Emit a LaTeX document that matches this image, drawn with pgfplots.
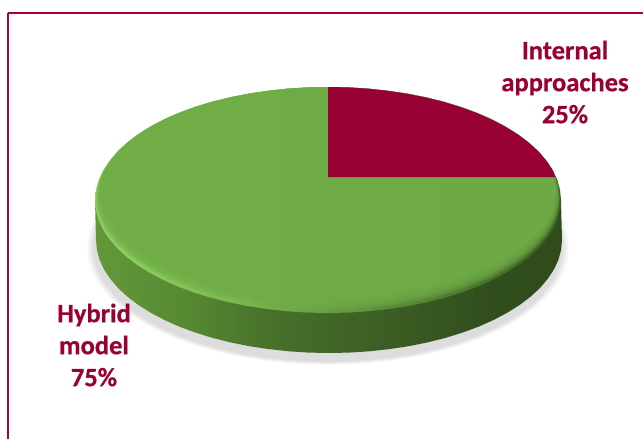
\documentclass[border=0pt]{standalone}
\usepackage{pgfplots}
\pgfplotsset{compat=1.18}
\usepackage{pgfplotstable}
\usepackage{fontspec}
\setmainfont{Carlito}[BoldFeatures={FakeBold=0.5}]
\definecolor{wine}{HTML}{990033}
\definecolor{frameline}{HTML}{A8003C}
\definecolor{face}{HTML}{70AD47}

\definecolor{wallA}{HTML}{6BA53F}
\definecolor{wallB}{HTML}{62983A}
\definecolor{wallC}{HTML}{578833}
\definecolor{wallD}{HTML}{466E2A}
\definecolor{wallE}{HTML}{3D5F24}
\definecolor{wallF}{HTML}{304D1C}
\definecolor{wallG}{HTML}{2E481A}
\definecolor{bevA}{HTML}{6CAD42}
\definecolor{bevB}{HTML}{90D264}
\definecolor{bevC}{HTML}{8CCD5E}
\definecolor{bevD}{HTML}{70AD48}
\definecolor{bevE}{HTML}{4F7F30}
\definecolor{bevF}{HTML}{38591F}
\definecolor{bevG}{HTML}{304C1C}

% side wall of the disc, lit from the left
\pgfdeclarehorizontalshading{wall}{100bp}{
  color(0bp)=(wallA);color(25bp)=(wallB);color(35bp)=(wallC);
  color(45bp)=(wallD);color(55bp)=(wallE);color(68bp)=(wallF);
  color(100bp)=(wallG)}
% bevel running along the front of the top face
\pgfdeclarehorizontalshading{bevel}{100bp}{
  color(0bp)=(bevA);color(20bp)=(bevB);color(30bp)=(bevC);
  color(45bp)=(bevD);color(62bp)=(bevE);color(78bp)=(bevF);
  color(100bp)=(bevG)}

% outline of the top face, in image pixels
\pgfplotstableread{
x y
561.0 200.0
560.1 190.2
557.5 180.4
553.1 170.8
546.9 161.4
539.2 152.2
529.8 143.5
518.9 135.2
506.5 127.4
492.8 120.1
477.8 113.4
461.6 107.4
444.5 102.1
426.5 97.6
407.7 93.8
388.3 90.9
368.5 88.7
348.3 87.4
328.0 87.0
307.7 87.4
287.5 88.7
267.7 90.9
248.3 93.8
229.5 97.6
211.5 102.1
194.4 107.4
178.2 113.4
163.2 120.1
149.5 127.4
137.1 135.2
126.2 143.5
116.8 152.2
109.1 161.4
102.9 170.8
98.5 180.4
95.9 190.2
95.0 200.0
95.9 209.8
98.5 219.6
102.9 229.2
109.1 238.6
116.8 247.8
126.2 256.5
137.1 264.8
149.5 272.6
163.2 279.9
178.2 286.6
194.4 292.6
211.5 297.9
229.5 302.4
248.3 306.2
267.7 309.1
287.5 311.3
307.7 312.6
328.0 313.0
348.3 312.6
368.5 311.3
388.3 309.1
407.7 306.2
426.5 302.4
444.5 297.9
461.6 292.6
477.8 286.6
492.8 279.9
506.5 272.6
518.9 264.8
529.8 256.5
539.2 247.8
546.9 238.6
553.1 229.2
557.5 219.6
560.1 209.8
561.0 200.0
}\topface

% the smaller share: apex, then along the rim to the right-hand corner
\pgfplotstableread{
x y
328.0 177.0
328.0 87.0
348.3 87.4
368.5 88.7
388.3 90.9
407.7 93.8
426.5 97.6
444.5 102.1
461.6 107.4
477.8 113.4
492.8 120.1
506.5 127.4
518.9 135.2
529.8 143.5
539.2 152.2
546.9 161.4
553.1 170.8
555.0 177.0
}\smallshare

% wall: from the left extreme round the lower edge to the right extreme
\pgfplotstableread{
x y
95.0 200.0
96.0 240.0
96.9 249.8
99.5 259.6
103.9 269.2
110.1 278.6
117.8 287.8
127.2 296.5
138.1 304.8
150.5 312.6
164.2 319.9
179.2 326.6
195.4 332.6
212.5 337.9
230.5 342.4
249.3 346.2
268.7 349.1
288.5 351.3
308.7 352.6
329.0 353.0
349.3 352.6
369.5 351.3
389.3 349.1
408.7 346.2
427.5 342.4
445.5 337.9
462.6 332.6
478.8 326.6
493.8 319.9
507.5 312.6
519.9 304.8
530.8 296.5
540.2 287.8
547.9 278.6
554.1 269.2
558.5 259.6
561.1 249.8
562.0 240.0
561.0 200.0
}\wall

\begin{document}
\begin{tikzpicture}[x=1pt,y=1pt]
% page extent
\path[use as bounding box] (0,0) rectangle (643pt,439pt);
\begin{axis}[
  anchor=south west, at={(0,0)},
  scale only axis, width=643pt, height=439pt,
  xmin=0, xmax=643, ymin=0, ymax=439, y dir=reverse,
  axis lines=none, clip=false]

% chart frame
\addplot[frameline, line width=1.4pt] coordinates {(8,13) (643,13)};
\addplot[frameline, line width=1.4pt] coordinates {(8,13) (8,439)};

% soft ground shadow under the disc
\pgfplotsinvokeforeach{1.035,1.03,1.025,1.02,1.015,1.01,1.005}{
  \addplot[fill=black, fill opacity=0.018, draw=none]
    table[x expr={328+(\thisrow{x}-328)*#1}, y expr={248+(\thisrow{y}-200)*#1}] {\topface} -- cycle;
}

% side wall
\addplot[shading=wall, draw=none] table {\wall} -- cycle;

% top face: bevel first, then the flat face fading in over it
\addplot[shading=bevel, draw=none] table {\topface} -- cycle;
\pgfplotsinvokeforeach{0.985,0.975,0.965,0.955,0.945,0.935,0.925}{
  \addplot[fill=face, fill opacity=0.36, draw=none]
    table[x expr={328+(\thisrow{x}-328)*(1-(1-#1)/3)}, y expr={87+(\thisrow{y}-87)*#1}] {\topface} -- cycle;
}

% smaller share on top
\addplot[fill=wine, draw=none] table {\smallshare} -- cycle;

\node[wine, align=center, font=\fontsize{26.5}{32}\selectfont\bfseries] at (axis cs:565,82)
  {Internal\\approaches\\25\%};
\node[wine, align=center, font=\fontsize{26.5}{32}\selectfont\bfseries] at (axis cs:94,345)
  {Hybrid\\model\\75\%};
\end{axis}
\end{tikzpicture}
\end{document}
